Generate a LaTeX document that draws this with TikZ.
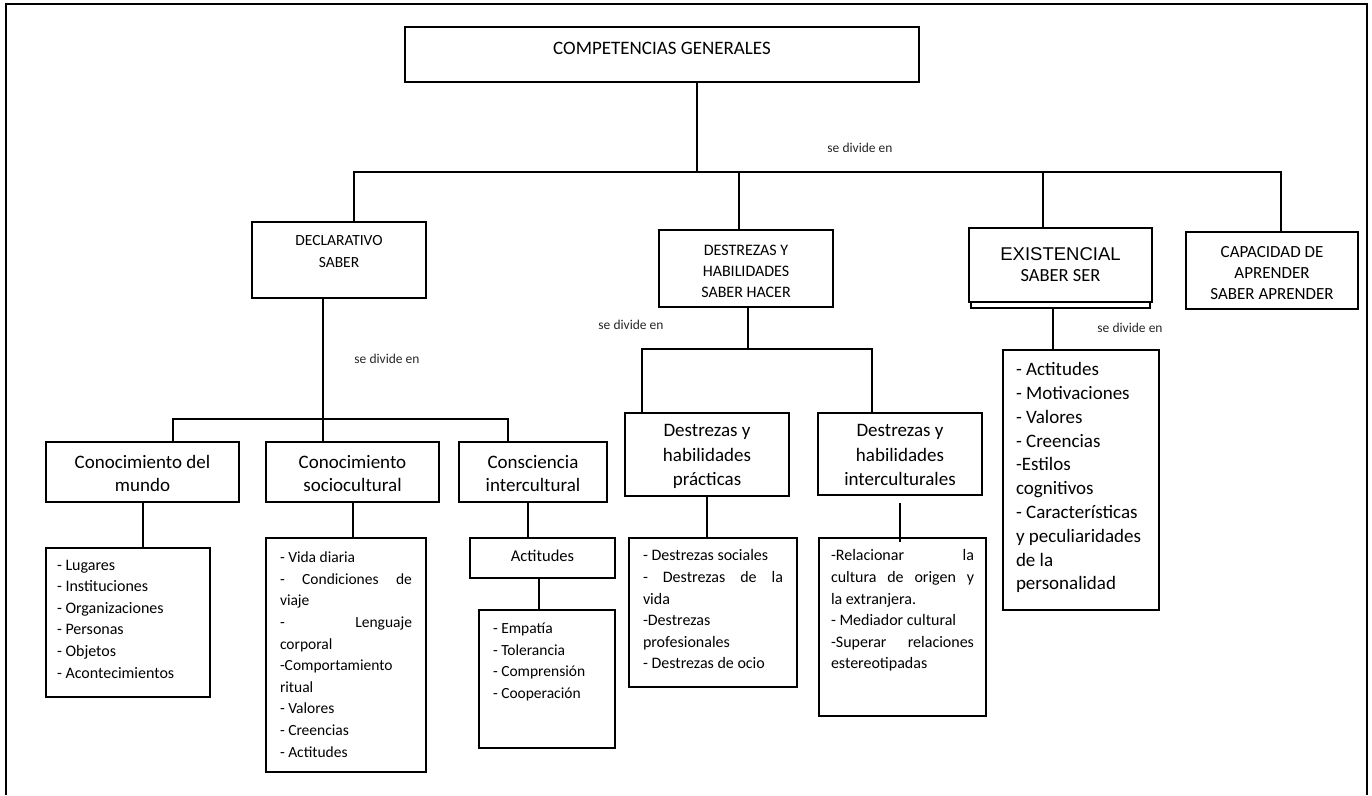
\documentclass[tikz,border=0pt]{standalone}
\usepackage{fontspec}
\setmainfont{Carlito}
\newfontfamily\arialfont{Liberation Sans}
\usepackage{tikz}
\newcommand{\caja}[3]{\parbox[c][#2][t]{#1}{#3}}

\begin{document}
\begin{tikzpicture}[x=1pt, y=-1pt,
    caja/.style={draw, line width=2pt, inner sep=0pt, fill=white},
    linea/.style={line width=2pt},
    encab/.style={caja, font=\fontsize{16}{21}\selectfont},
    rama/.style={caja, font=\fontsize{19}{23}\selectfont},
    lista/.style={caja, inner xsep=14pt, font=\fontsize{16}{21.6}\selectfont},
    nota/.style={inner sep=0pt, text=black!85, font=\fontsize{13.5}{15}\selectfont}]
  \useasboundingbox (0,0) rectangle (1372,795);
  \draw [line width=2.8pt] (6,795) -- (6,4) -- (1367,4) -- (1367,795);

  % primer nivel
  \node [caja, font=\fontsize{19}{23}\selectfont] (comp) at (662,54.5)
    {\caja{514pt}{55pt}{\centering\vspace*{15pt}COMPETENCIAS GENERALES}};
  \node [encab, font=\fontsize{15.5}{22}\selectfont] (decl) at (339,260)
    {\caja{174pt}{76pt}{\centering\vspace*{13pt}DECLARATIVO\\SABER}};
  \node [encab] (dest) at (746,268.5)
    {\caja{174pt}{77pt}{\centering\vspace*{15pt}DESTREZAS Y\\HABILIDADES\\SABER HACER}};
  \node [caja, line width=1.4pt, minimum width=179pt, minimum height=74pt] (existfondo) at (1060.5,271) {};
  \node [caja, line width=1.4pt, font=\fontsize{18.5}{20.5}\selectfont] (exist) at (1060.5,265)
    {\caja{183pt}{74pt}{\centering\vspace*{20pt}{\arialfont EXISTENCIAL}\\SABER SER}};
  \node [encab, font=\fontsize{17}{21}\selectfont] (capac) at (1272,270.5)
    {\caja{172pt}{77pt}{\centering\vspace*{14.5pt}CAPACIDAD DE\\APRENDER\\SABER APRENDER}};

  \coordinate (t1) at (697,172);
  \coordinate (t1l) at (354,172);
  \coordinate (t1r) at (1281,172);
  \coordinate (t1d) at (739,172);
  \coordinate (t1e) at (1043,172);
  \draw [linea] (comp.south -| t1) -- (t1);
  \draw [linea] (t1l |- decl.north) -- (t1l) -- (t1r) -- (t1r |- capac.north);
  \draw [linea] (t1d) -- (t1d |- dest.north);
  \draw [linea] (t1e) -- (t1e |- exist.north);
  \node [nota] (sd1) at (860,148) {se divide en};

  % saber
  \node [rama] (mundo) at (142.5,472)
    {\caja{193pt}{60pt}{\centering\vspace*{13.4pt}Conocimiento del\\mundo}};
  \node [rama] (socio) at (352.5,472)
    {\caja{173pt}{60pt}{\centering\vspace*{13.4pt}Conocimiento\\sociocultural}};
  \node [rama] (consc) at (533,472)
    {\caja{148pt}{60pt}{\centering\vspace*{13.4pt}Consciencia\\intercultural}};
  \coordinate (t2) at (323,419);
  \coordinate (t2l) at (173,419);
  \coordinate (t2r) at (508,419);
  \draw [linea] (decl.south -| t2) -- (t2 |- socio.north);
  \draw [linea] (t2l |- mundo.north) -- (t2l) -- (t2r) -- (t2r |- consc.north);
  \node [nota] (sd2) at (387,359) {se divide en};

  \node [lista, inner xsep=11pt] (lmundo) at (128,622.5)
    {\caja{142pt}{149pt}{\raggedright\vspace*{11.8pt}- Lugares\\- Instituciones\\- Organizaciones\\- Personas\\- Objetos\\- Acontecimientos}};
  \node [lista, font=\fontsize{15.5}{21.6}\selectfont] (lsocio) at (346,655)
    {\caja{132pt}{234pt}{\raggedright\vspace*{14pt}- Vida diaria\\-\hfill Condiciones\hfill de\\viaje\\-\hfill Lenguaje\\corporal\\-Comportamiento\\ritual\\- Valores\\- Creencias\\- Actitudes}};
  \node [caja, font=\fontsize{16.5}{20}\selectfont] (actit) at (542.5,558)
    {\caja{145pt}{40pt}{\centering\vspace*{11.6pt}Actitudes}};
  \node [lista, font=\fontsize{15.5}{21.7}\selectfont] (lactit) at (547,679)
    {\caja{108pt}{138pt}{\raggedright\vspace*{13pt}- Empatía\\- Tolerancia\\- Comprensión\\- Cooperación}};
  \draw [linea] (mundo.south) -- (mundo.south |- lmundo.north);
  \draw [linea] (socio.south) -- (socio.south |- lsocio.north);
  \draw [linea] ([xshift=-5pt]consc.south) -- ([xshift=-5pt]consc.south |- actit.north);
  \draw [linea] ([xshift=-4pt]actit.south) -- ([xshift=-4pt]actit.south |- lactit.north);

  % saber hacer
  \node [rama, font=\fontsize{19}{24.5}\selectfont] (dprac) at (707,454.5)
    {\caja{164pt}{83pt}{\centering\vspace*{11.4pt}Destrezas y\\habilidades\\prácticas}};
  \node [rama, font=\fontsize{19}{24.5}\selectfont] (dinter) at (900,454)
    {\caja{164pt}{82pt}{\centering\vspace*{11.4pt}Destrezas y\\habilidades\\interculturales}};
  \coordinate (t3) at (748,349);
  \coordinate (t3l) at (642,349);
  \coordinate (t3r) at (872,349);
  \draw [linea] (dest.south -| t3) -- (t3);
  \draw [linea] (t3l |- dprac.north) -- (t3l) -- (t3r) -- (t3r |- dinter.north);
  \node [nota] (sd3) at (631,325) {se divide en};

  \node [lista] (lprac) at (713,612.5)
    {\caja{140pt}{149pt}{\raggedright\vspace*{11.8pt}- Destrezas sociales\\-\hfill Destrezas\hfill de\hfill la\\vida\\-Destrezas\\profesionales\\- Destrezas de ocio}};
  \node [lista, inner xsep=12pt] (linter) at (902.5,627)
    {\caja{143pt}{178pt}{\raggedright\vspace*{11.8pt}-Relacionar\hfill la\\cultura\hfill de\hfill origen\hfill y\\la extranjera.\\- Mediador cultural\\-Superar\hfill relaciones\\estereotipadas}};
  \draw [linea] (dprac.south) -- (dprac.south |- lprac.north);
  \draw [linea] ([yshift=-7pt]dinter.south) -- ([yshift=-5pt]dinter.south |- linter.north);

  % saber ser
  \node [lista, inner xsep=13pt, font=\fontsize{19}{23.8}\selectfont] (lexist) at (1081,480)
    {\caja{130pt}{260pt}{\raggedright\vspace*{12.4pt}- Actitudes\\- Motivaciones\\- Valores\\- Creencias\\-Estilos\\cognitivos\\- Características\\y peculiaridades\\de la\\personalidad}};
  \draw [linea] ([xshift=-8pt]existfondo.south) -- ([xshift=-8pt]existfondo.south |- lexist.north);
  \node [nota] (sd4) at (1130,328) {se divide en};
\end{tikzpicture}
\end{document}
